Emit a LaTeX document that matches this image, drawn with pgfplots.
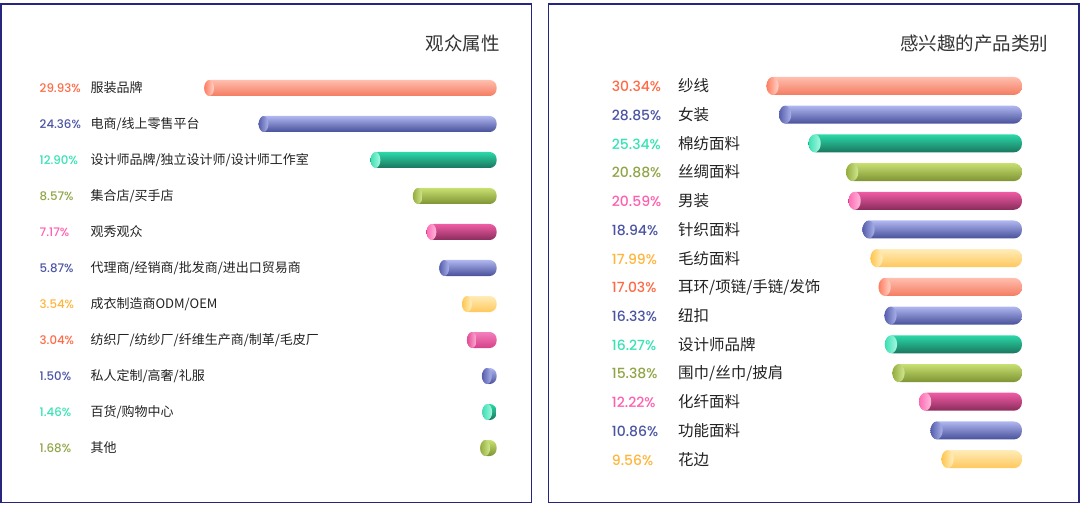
\documentclass[border=0pt]{standalone}
\usepackage{pgfplots}
\pgfplotsset{compat=1.18}
\usetikzlibrary{shapes.geometric}
\usepackage{fontspec}
\setmainfont{Noto Sans CJK SC}
\newfontfamily\pctfont{Poppins}[UprightFont={* Medium}]

% label colours
\definecolor{lO}{HTML}{FF6A45}
\definecolor{lB}{HTML}{4B54A3}
\definecolor{lT}{HTML}{35E3B4}
\definecolor{lG}{HTML}{8FA545}
\definecolor{lP}{HTML}{FF5FAE}
\definecolor{lY}{HTML}{FFB43A}
\definecolor{nameC}{HTML}{222222}
\definecolor{titleC}{HTML}{333333}
\definecolor{borderC}{HTML}{26267E}

\tikzset{
  barO/.style={top color={rgb,255:red,255;green,190;blue,174}, middle color={rgb,255:red,255;green,146;blue,120}, bottom color={rgb,255:red,244;green,124;blue,98}},
  capO/.style={left color={rgb,255:red,255;green,126;blue,98}, right color={rgb,255:red,255;green,212;blue,200}},
  barB/.style={top color={rgb,255:red,176;green,183;blue,240}, middle color={rgb,255:red,120;green,128;blue,200}, bottom color={rgb,255:red,72;green,80;blue,154}},
  capB/.style={left color={rgb,255:red,88;green,96;blue,174}, right color={rgb,255:red,170;green,178;blue,234}},
  barT/.style={top color={rgb,255:red,44;green,216;blue,168}, middle color={rgb,255:red,36;green,172;blue,134}, bottom color={rgb,255:red,26;green,118;blue,94}},
  capT/.style={left color={rgb,255:red,60;green,226;blue,182}, right color={rgb,255:red,170;green,246;blue,224}},
  barG/.style={top color={rgb,255:red,200;green,224;blue,114}, middle color={rgb,255:red,164;green,188;blue,80}, bottom color={rgb,255:red,126;green,148;blue,52}},
  capG/.style={left color={rgb,255:red,150;green,174;blue,62}, right color={rgb,255:red,210;green,232;blue,146}},
  barP/.style={top color={rgb,255:red,240;green,92;blue,165}, middle color={rgb,255:red,196;green,64;blue,128}, bottom color={rgb,255:red,138;green,44;blue,92}},
  capP/.style={left color={rgb,255:red,255;green,108;blue,180}, right color={rgb,255:red,255;green,186;blue,220}},
  barY/.style={top color={rgb,255:red,255;green,236;blue,184}, middle color={rgb,255:red,255;green,218;blue,130}, bottom color={rgb,255:red,255;green,200;blue,92}},
  capY/.style={left color={rgb,255:red,255;green,198;blue,78}, right color={rgb,255:red,255;green,240;blue,196}},
  barPL/.style={top color={rgb,255:red,244;green,128;blue,190}, middle color={rgb,255:red,232;green,90;blue,160}, bottom color={rgb,255:red,214;green,64;blue,136}},
  capPL/.style={left color={rgb,255:red,226;green,76;blue,150}, right color={rgb,255:red,255;green,178;blue,214}},
}

% #1 bar width, #2 corner radius, #3 cap width, #4 bar style, #5 cap style, #6 coordinate (one bar)
\newcommand{\cyl}[6]{%
  \addplot[xbar, bar shift=0pt, bar width=#1, draw=none, rounded corners=#2, #4] coordinates {#6};
  \addplot[draw=none, mark=none, nodes near coords={},
    every node near coord/.style={ellipse, draw=none, inner sep=0pt, minimum width=#3, minimum height=#1, anchor=west, #5}] coordinates {#6};
}
\newcommand{\cL}[3]{\cyl{16pt}{7pt}{9.6pt}{bar#1}{cap#1}{#2}}
\newcommand{\cR}[3]{\cyl{18pt}{8pt}{12pt}{bar#1}{cap#1}{#2}}

\newcommand{\LL}[3]{\makebox[50.9pt][l]{\pctfont\fontsize{11.8}{12}\selectfont\textcolor{#1}{#2\%}}#3}
\newcommand{\RL}[3]{\makebox[66.3pt][l]{\pctfont\fontsize{14}{15}\selectfont\textcolor{#1}{#2\%}}#3}

\begin{document}
\begin{tikzpicture}
\useasboundingbox (0pt,0pt) rectangle (1081pt,505pt);
\draw[borderC, line width=1.5pt] (1.2pt,2.7pt) rectangle (531.5pt,501pt);
\draw[borderC, line width=1.5pt] (548.5pt,2.7pt) rectangle (1079.2pt,501pt);
\node[anchor=east, inner sep=0pt, text=titleC, font=\fontsize{18.5}{20}\selectfont] at (500pt,462pt) {观众属性};
\node[anchor=east, inner sep=0pt, text=titleC, font=\fontsize{18.5}{20}\selectfont] at (1048.6pt,461.5pt) {感兴趣的产品类别};

\begin{axis}[
  at={(39.5pt,39pt)}, anchor=south west, scale only axis,
  width=457.1pt, height=396pt,
  xmin=0, xmax=46.79, x dir=reverse,
  ymin=-0.5, ymax=10.5, y dir=reverse,
  clip=false,
  axis line style={draw=none},
  major tick length=0pt,
  xtick=\empty,
  ytick={0,...,10},
  yticklabel style={anchor=west, inner sep=0pt, text=nameC, font=\fontsize{13}{14}\selectfont},
  yticklabels={
    \LL{lO}{29.93}{服装品牌},
    \LL{lB}{24.36}{电商/线上零售平台},
    \LL{lT}{12.90}{设计师品牌/独立设计师/设计师工作室},
    \LL{lG}{8.57}{集合店/买手店},
    \LL{lP}{7.17}{观秀观众},
    \LL{lB}{5.87}{代理商/经销商/批发商/进出口贸易商},
    \LL{lY}{3.54}{成衣制造商ODM/OEM},
    \LL{lO}{3.04}{纺织厂/纺纱厂/纤维生产商/制革/毛皮厂},
    \LL{lB}{1.50}{私人定制/高奢/礼服},
    \LL{lT}{1.46}{百货/购物中心},
    \LL{lG}{1.68}{其他}},
]
\cL{O}{(29.93,0)}{}
\cL{B}{(24.36,1)}{}
\cL{T}{(12.90,2)}{}
\cL{G}{(8.57,3)}{}
\cL{P}{(7.17,4)}{}
\cL{B}{(5.87,5)}{}
\cL{Y}{(3.54,6)}{}
\cL{PL}{(3.04,7)}{}
\cL{B}{(1.50,8)}{}
\cL{T}{(1.46,9)}{}
\cL{G}{(1.68,10)}{}
\end{axis}

\begin{axis}[
  at={(611.7pt,31.5pt)}, anchor=south west, scale only axis,
  width=410.2pt, height=401.9pt,
  xmin=0, xmax=48.72, x dir=reverse,
  ymin=-0.5, ymax=13.5, y dir=reverse,
  clip=false,
  axis line style={draw=none},
  major tick length=0pt,
  xtick=\empty,
  ytick={0,...,13},
  yticklabel style={anchor=west, inner sep=0pt, text=nameC, font=\fontsize{15.5}{16}\selectfont},
  yticklabels={
    \RL{lO}{30.34}{纱线},
    \RL{lB}{28.85}{女装},
    \RL{lT}{25.34}{棉纺面料},
    \RL{lG}{20.88}{丝绸面料},
    \RL{lP}{20.59}{男装},
    \RL{lB}{18.94}{针织面料},
    \RL{lY}{17.99}{毛纺面料},
    \RL{lO}{17.03}{耳环/项链/手链/发饰},
    \RL{lB}{16.33}{纽扣},
    \RL{lT}{16.27}{设计师品牌},
    \RL{lG}{15.38}{围巾/丝巾/披肩},
    \RL{lP}{12.22}{化纤面料},
    \RL{lB}{10.86}{功能面料},
    \RL{lY}{9.56}{花边}},
]
\cR{O}{(30.34,0)}{}
\cR{B}{(28.85,1)}{}
\cR{T}{(25.34,2)}{}
\cR{G}{(20.88,3)}{}
\cR{P}{(20.59,4)}{}
\cR{B}{(18.94,5)}{}
\cR{Y}{(17.99,6)}{}
\cR{O}{(17.03,7)}{}
\cR{B}{(16.33,8)}{}
\cR{T}{(16.27,9)}{}
\cR{G}{(15.38,10)}{}
\cR{P}{(12.22,11)}{}
\cR{B}{(10.86,12)}{}
\cR{Y}{(9.56,13)}{}
\end{axis}
\end{tikzpicture}
\end{document}
